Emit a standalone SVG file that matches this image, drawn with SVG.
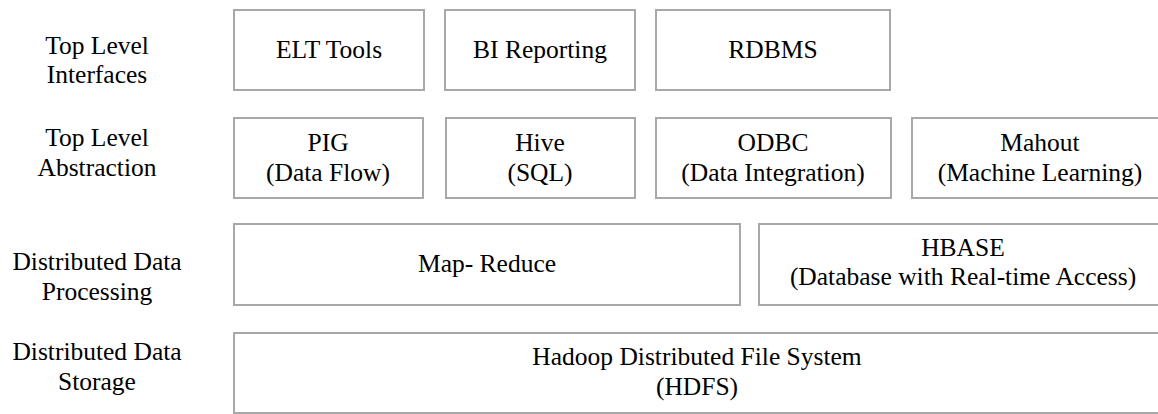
<svg xmlns="http://www.w3.org/2000/svg" width="1158" height="414" viewBox="0 0 1158 414">
  <style>
    .box { fill: #ffffff; stroke: #a8a8a8; stroke-width: 2; }
    .t { font-size: 25.5px; fill: #000000; text-anchor: middle; }
  </style>
  <rect x="0" y="0" width="1158" height="414" fill="#ffffff"/>

  <g font-family="Liberation Serif, Times New Roman, DejaVu Serif, serif">
  <!-- layer labels -->
  <g id="labels">
    <text class="t" x="97" y="54">Top Level</text>
    <text class="t" x="97" y="83">Interfaces</text>
    <text class="t" x="97" y="146">Top Level</text>
    <text class="t" x="97" y="176">Abstraction</text>
    <text class="t" x="97" y="270">Distributed Data</text>
    <text class="t" x="97" y="300">Processing</text>
    <text class="t" x="97" y="360">Distributed Data</text>
    <text class="t" x="97" y="390">Storage</text>
  </g>

  <!-- top level interfaces -->
  <g id="elt-tools">
    <rect class="box" x="234" y="10" width="190" height="80"/>
    <text class="t" x="329" y="58">ELT Tools</text>
  </g>
  <g id="bi-reporting">
    <rect class="box" x="445" y="10" width="190" height="80"/>
    <text class="t" x="540" y="58">BI Reporting</text>
  </g>
  <g id="rdbms">
    <rect class="box" x="656" y="10" width="234" height="80"/>
    <text class="t" x="773" y="58">RDBMS</text>
  </g>

  <!-- top level abstraction -->
  <g id="pig">
    <rect class="box" x="234" y="118" width="189" height="80"/>
    <text class="t" x="328" y="151">PIG</text>
    <text class="t" x="328" y="181">(Data Flow)</text>
  </g>
  <g id="hive">
    <rect class="box" x="446" y="118" width="189" height="80"/>
    <text class="t" x="540" y="151">Hive</text>
    <text class="t" x="540" y="181">(SQL)</text>
  </g>
  <g id="odbc">
    <rect class="box" x="656" y="118" width="235" height="80"/>
    <text class="t" x="773" y="151">ODBC</text>
    <text class="t" x="773" y="181">(Data Integration)</text>
  </g>
  <g id="mahout">
    <rect class="box" x="912" y="118" width="256" height="80"/>
    <text class="t" x="1040" y="151">Mahout</text>
    <text class="t" x="1040" y="181">(Machine Learning)</text>
  </g>

  <!-- distributed data processing -->
  <g id="map-reduce">
    <rect class="box" x="234" y="224" width="506" height="81"/>
    <text class="t" x="487" y="272">Map- Reduce</text>
  </g>
  <g id="hbase">
    <rect class="box" x="759" y="224" width="409" height="81"/>
    <text class="t" x="963" y="256">HBASE</text>
    <text class="t" x="963" y="285">(Database with Real-time Access)</text>
  </g>

  <!-- distributed data storage -->
  <g id="hdfs">
    <rect class="box" x="234" y="333" width="934" height="80"/>
    <text class="t" x="697" y="365">Hadoop Distributed File System</text>
    <text class="t" x="697" y="395">(HDFS)</text>
  </g>
  </g>

  <g id="connectors"/>
</svg>
